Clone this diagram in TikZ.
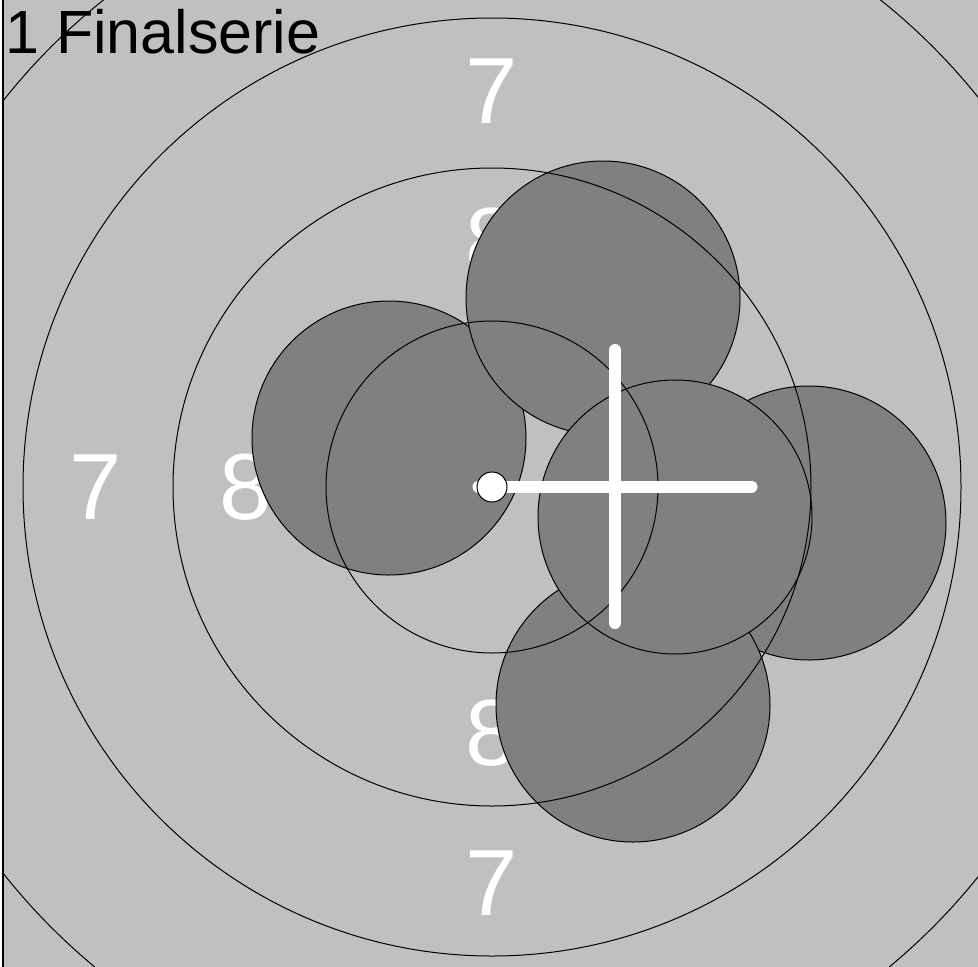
\documentclass[tikz,border=0pt]{standalone}
\usepackage{fontspec}
\setmainfont{Liberation Sans}
\definecolor{bggray}{HTML}{C0C0C0}
\definecolor{shotgray}{HTML}{808080}
\tikzset{
  ringline/.style={draw=black, line width=1pt},
  ringnum/.style={text=white, inner sep=0pt, font=\fontsize{94}{94}\selectfont},
  shot/.style={fill=shotgray, draw=black, line width=1pt},
  crossline/.style={draw=white, line width=12pt, line cap=round},
}
\begin{document}
\begin{tikzpicture}[x=1pt,y=-1pt]
\useasboundingbox (0,0) rectangle (978,967);
\fill[white] (0,0) rectangle (978,967);
\begin{scope}
\clip (4,0) rectangle (978,967);
\fill[bggray] (0,0) rectangle (978,967);
\coordinate (c) at (492,487);
% ring numbers
\node[ringnum] (l7l) at (96,487) {7};
\node[ringnum] (l8l) at (246,487) {8};
\node[ringnum] (l7t) at (492,91) {7};
\node[ringnum] (l8t) at (492,241) {8};
\node[ringnum] (l8b) at (492,733) {8};
\node[ringnum] (l7b) at (492,883) {7};
% shots, in order
\coordinate (s1) at (389,438);
\coordinate (s2) at (603,298);
\coordinate (s3) at (809,523);
\coordinate (s4) at (633,705);
\coordinate (s5) at (675,517);
\foreach \s in {s1,s2,s3,s4,s5}{\filldraw[shot] (\s) circle[radius=137];}
% ring lines
\foreach \r in {166,319,469,623}{\draw[ringline] (c) circle[radius=\r];}
% crosshair
\coordinate (xc) at (615,486.5);
\draw[crossline] ([xshift=-136.5pt]xc) -- ([xshift=136.5pt]xc);
\draw[crossline] ([yshift=-136.5pt]xc) -- ([yshift=136.5pt]xc);
\filldraw[fill=white, draw=black, line width=1pt] (c) circle[radius=15];
\end{scope}
\draw[black, line width=1.5pt] (3,0) -- (3,967);
\node[anchor=base west, inner sep=0pt, font=\fontsize{61}{61}\selectfont] (title) at (5,53) {1 Finalserie};
\end{tikzpicture}
\end{document}
